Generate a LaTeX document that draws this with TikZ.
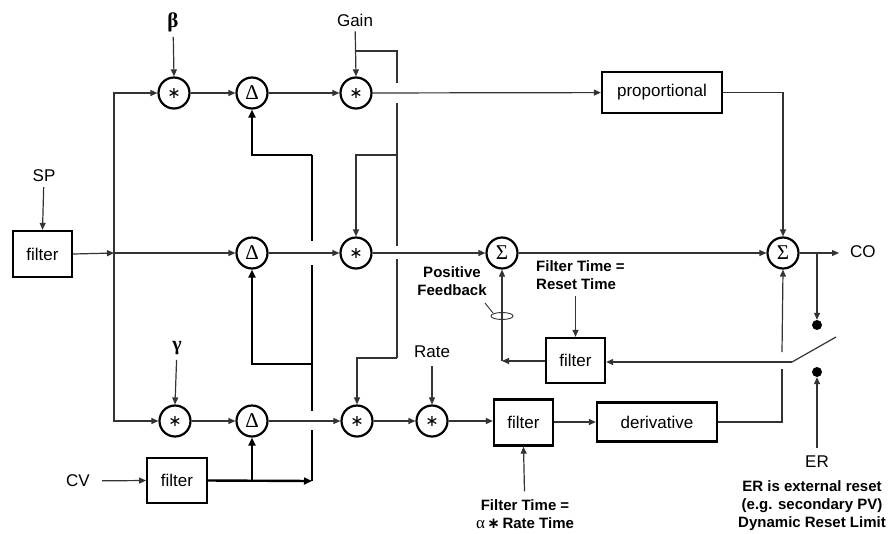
\documentclass[tikz,border=0pt]{standalone}
\usepackage{fontspec}
\setmainfont{Liberation Sans}
\newfontfamily\sergr{Liberation Serif}
\newfontfamily\dvsans{DejaVu Sans}
\usetikzlibrary{arrows.meta}
\newcommand\opstar{{\dvsans\fontsize{16}{16}\selectfont ∗}}
\newcommand\opdelta{{\sergr\fontsize{21}{21}\selectfont Δ}}
\newcommand\opsigma{{\sergr\fontsize{21}{21}\selectfont Σ}}
\begin{document}
\begin{tikzpicture}[x=1pt,y=-1pt,
  line/.style={draw=black!80, line width=1.2pt},
  arr/.style={line, -{Triangle[length=7pt,width=6pt]}},
  fat/.style={draw=black, line width=2.4pt},
  farr/.style={fat, -{Triangle[length=8pt,width=7pt]}},
  op/.style={circle, draw=black, line width=2.2pt, minimum size=31pt, inner sep=0pt},
  blk/.style={draw=black, line width=2.3pt, inner sep=0pt, font=\fontsize{17}{20}\selectfont},
  lbl/.style={font=\fontsize{17}{20}\selectfont, inner sep=0pt},
  blbl/.style={font=\bfseries\fontsize{15}{18}\selectfont, inner sep=0pt, align=center},
  dot/.style={circle, fill=black, minimum size=10pt, inner sep=0pt},
]
\useasboundingbox (0,0) rectangle (890,533);
% operators
\node[op] (m1) at (174,93) {\opstar};
\node[op] (d1) at (252,93) {\opdelta};
\node[op] (m2) at (356,93) {\opstar};
\node[op] (d2) at (252,253) {\opdelta};
\node[op] (m5) at (356,253) {\opstar};
\node[op] (s1) at (502,253) {\opsigma};
\node[op] (s2) at (783,253) {\opsigma};
\node[op] (m3) at (175,421) {\opstar};
\node[op] (d3) at (252,421) {\opdelta};
\node[op] (m4) at (357,421) {\opstar};
\node[op] (m6) at (432,421) {\opstar};
% blocks
\node[blk, minimum width=120pt, minimum height=41pt] (prop) at (662,92.5) {proportional};
\node[blk, minimum width=59pt, minimum height=46pt] (spf) at (42.5,254) {filter};
\node[blk, line width=1.8pt, minimum width=60pt, minimum height=45pt] (cvf) at (177,480.5) {filter};
\node[blk, minimum width=59pt, minimum height=45pt] (rf) at (575.5,360.5) {filter};
\node[blk, minimum width=59pt, minimum height=46pt] (f2) at (523.5,422.5) {filter};
\node[blk, minimum width=120pt, minimum height=39pt] (der) at (657,422) {derivative};
% labels
\node[lbl] (sp) at (44,176) {SP};
\node[lbl, font=\sergr\bfseries\fontsize{21}{22}\selectfont] (beta) at (173,22) {β};
\node[lbl] (gain) at (355,20) {Gain};
\node[lbl, font=\sergr\bfseries\fontsize{20}{22}\selectfont] (gamma) at (177,348) {γ};
\node[lbl] (rate) at (432,352) {Rate};
\node[lbl] (cv) at (78,481) {CV};
\node[lbl, anchor=west] (co) at (850,252) {CO};
\node[lbl] (er) at (817,462) {ER};
\node[blbl] (pf) at (452,281) {Positive\\Feedback};
\node[blbl, align=left, anchor=west] (rtt) at (536,275) {Filter Time =\\Reset Time};
\node[blbl] (att) at (525,514) {Filter Time =\\{\sergr\mdseries\fontsize{17}{18}\selectfont α}\,{\dvsans\bfseries ∗}\,Rate Time};
\node[blbl] (ert) at (812,506) {ER is external reset\\(e.g. secondary PV)\\Dynamic Reset Limit};
\node[dot] (dt1) at (817,325) {};
\node[dot] (dt2) at (817,372) {};
% coordinates
\coordinate (jL) at (114,253);
\coordinate (gA) at (356,51);
\coordinate (gB) at (397,51);
\coordinate (gC) at (397,155);
\coordinate (gD) at (397,358);
\coordinate (tA) at (312,155);
\coordinate (tB) at (312,364);
\coordinate (tC) at (312,481);
\coordinate (br) at (817,253);
\coordinate (coE) at (839,253);
\coordinate (sw) at (792,362);
\coordinate (swE) at (836,337);
\coordinate (rc) at (502,361);
\coordinate (dA) at (782,369);
\coordinate (dB) at (782,352);
\coordinate (pfA) at (485,303);
\coordinate (pfB) at (493,313);
% SP path and left bus
\draw[arr, shorten <=5pt] (sp) -- (spf.north);
\draw[arr] (spf.east) -- (jL);
\draw[arr] (jL) |- (m1.west);
\draw[arr] (jL) |- (m3.west);
\draw[arr] (jL) -- (d2.west);
% top row
\draw[arr, shorten <=5pt] (beta) -- (m1.north);
\draw[arr] (m1) -- (d1);
\draw[arr] (d1) -- (m2);
\draw[arr] (m2) -- (prop);
\draw[arr, shorten <=5pt] (gain) -- (m2.north);
% gain bus
\draw[line] (gA) -- (gB) -- (397,83);
\draw[line] (397,103) -- (397,246);
\draw[line] (397,259) -- (gD);
\draw[arr] (gC) -| (m5.north);
\draw[arr] (gD) -| (m4.north);
% thick bus
\draw[fat] (tA) -- (312,241);
\draw[fat] (312,265) -- (312,411);
\draw[fat] (312,430) -- (tC);
\draw[farr] (tA) -| (d1.south);
\draw[farr] (tB) -| (d2.south);
\draw[arr, shorten <=12pt] (cv) -- (cvf.west);
\draw[farr] (cvf.east) -- (tC);
\draw[farr] (cvf.east -| d3) -- (d3.south);
% middle row
\draw[arr] (d2) -- (m5);
\draw[arr] (m5) -- (s1);
\draw[arr] (s1) -- (s2);
\draw[arr] (prop.east) -| (s2.north);
\draw[arr] (s2.east) -- (coE);
\draw[arr] (br) -- (dt1.north);
% bottom row
\draw[arr, shorten <=5pt] (gamma) -- (m3.north);
\draw[arr] (m3) -- (d3);
\draw[arr] (d3) -- (m4);
\draw[arr] (m4) -- (m6);
\draw[arr, shorten <=8pt] (rate) -- (m6.north);
\draw[arr] (m6) -- (f2.west |- m6);
\draw[arr] (f2.east |- der) -- (der.west);
\draw[line] (der.east) -| (dA);
\draw[arr] (dB) -- (s2.south);
\draw[arr, shorten <=8pt] (att) -- (f2.south);
% reset feedback
\draw[line] (swE) -- (sw);
\draw[arr] (sw) -- (rf.east |- sw);
\draw[arr] (rf.west |- rc) -- (rc);
\draw[arr] (rc) -- (s1.south);
\draw[arr, shorten <=6pt] (rtt.south -| rf) -- (rf.north);
\draw[arr, shorten <=8pt] (er) -- (dt2.south);
% positive feedback marker
\draw[line, line width=0.9pt] (502,316) ellipse [x radius=11, y radius=3.5];
\draw[line, line width=0.9pt] (pfA) -- (pfB);
\end{tikzpicture}
\end{document}
